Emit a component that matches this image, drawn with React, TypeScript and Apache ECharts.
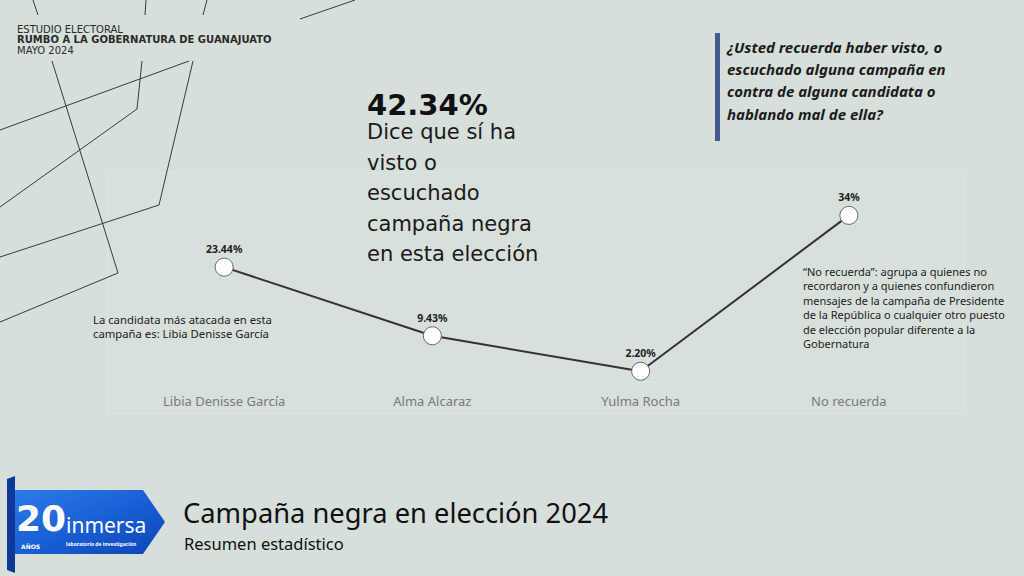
import React, { useEffect, useRef } from "react";
import * as echarts from "echarts";

const categories = ["Libia Denisse García", "Alma Alcaraz", "Yulma Rocha", "No recuerda"];
const values = [23.44, 9.43, 2.2, 34];
const valueLabels = ["23.44%", "9.43%", "2.20%", "34%"];

const headerLines = ["ESTUDIO ELECTORAL", "RUMBO A LA GOBERNATURA DE GUANAJUATO", "MAYO 2024"];
const bigStat = "42.34%";
const bigStatLines = ["Dice que sí ha", "visto o", "escuchado", "campaña negra", "en esta elección"];
const questionLines = [
  "¿Usted recuerda haber visto, o",
  "escuchado alguna campaña en",
  "contra de alguna candidata o",
  "hablando mal de ella?",
];
const leftNoteLines = ["La candidata más atacada en esta", "campaña es: Libia Denisse García"];
const rightNoteLines = [
  "“No recuerda”: agrupa a quienes no",
  "recordaron y a quienes confundieron",
  "mensajes de la campaña de Presidente",
  "de la República o cualquier otro puesto",
  "de elección popular diferente a la",
  "Gobernatura",
];
const footerTitle = "Campaña negra en elección 2024";
const footerSubtitle = "Resumen estadístico";

const BG = "#d6dfda";
const LINE = "#3a3a3a";

const decoLines: number[][][] = [
  [[33, 0], [38, 15]],
  [[146, 0], [145, 15]],
  [[207, 0], [203, 15]],
  [[300, 19], [355, 0]],
  [[52, 61], [118, 273], [0, 322]],
  [[142, 61], [137, 109], [0, 207]],
  [[189, 61], [0, 130]],
  [[193, 61], [159, 205], [0, 257]],
];

export default function App() {
  const ref = useRef<HTMLDivElement>(null);

  useEffect(() => {
    if (!ref.current) return;
    const chart = echarts.init(ref.current, null, { renderer: "svg" });

    const graphics: any[] = [];

    graphics.push({
      type: "rect",
      z: -10,
      shape: { x: 107.5, y: 172.5, width: 856, height: 241 },
      style: { fill: "rgba(255,255,255,0.04)", stroke: "#dde5e0", lineWidth: 1 },
    });

    decoLines.forEach((pts) => {
      graphics.push({
        type: "polyline",
        shape: { points: pts },
        style: { stroke: LINE, lineWidth: 1, fill: "none" },
      });
    });

    const headerFonts = ["normal", "bold", "normal"];
    headerLines.forEach((t, i) => {
      graphics.push({
        type: "text",
        x: 17,
        y: 29 + i * 10.5,
        style: {
          text: t,
          fill: "#2a2a2a",
          font: `${headerFonts[i]} 10px "DejaVu Sans"`,
          verticalAlign: "middle",
        },
      });
    });

    graphics.push({
      type: "text",
      x: 367,
      y: 105,
      style: {
        text: bigStat,
        fill: "#111",
        font: 'bold 29px "DejaVu Sans"',
        verticalAlign: "middle",
      },
    });
    bigStatLines.forEach((t, i) => {
      graphics.push({
        type: "text",
        x: 367,
        y: 132 + i * 30.6,
        style: {
          text: t,
          fill: "#1a1a1a",
          font: '21px "DejaVu Sans"',
          verticalAlign: "middle",
        },
      });
    });

    graphics.push({
      type: "rect",
      shape: { x: 715, y: 33, width: 5, height: 108 },
      style: { fill: "#43598f" },
    });
    questionLines.forEach((t, i) => {
      graphics.push({
        type: "text",
        x: 727,
        y: 47 + i * 22.2,
        style: {
          text: t,
          fill: "#1c1c1c",
          font: 'italic bold 15px "Noto Sans"',
          verticalAlign: "middle",
        },
      });
    });

    leftNoteLines.forEach((t, i) => {
      graphics.push({
        type: "text",
        x: 93,
        y: 319 + i * 14,
        style: { text: t, fill: "#222", font: '11.3px "Noto Sans"', verticalAlign: "middle" },
      });
    });
    rightNoteLines.forEach((t, i) => {
      graphics.push({
        type: "text",
        x: 803,
        y: 271 + i * 14.5,
        style: { text: t, fill: "#222", font: '11px "Noto Sans"', verticalAlign: "middle" },
      });
    });

    graphics.push({
      type: "text",
      x: 183,
      y: 512,
      style: { text: footerTitle, fill: "#111", font: '27.3px "Noto Sans"', verticalAlign: "middle" },
    });
    graphics.push({
      type: "text",
      x: 184,
      y: 543,
      style: { text: footerSubtitle, fill: "#111", font: '16.5px "Noto Sans"', verticalAlign: "middle" },
    });

    // logo ribbon
    graphics.push({
      type: "polygon",
      shape: { points: [[7, 479], [15, 476], [15, 573], [7, 570]] },
      style: { fill: "#0d3a99" },
    });
    graphics.push({
      type: "polygon",
      shape: { points: [[15, 490], [143, 490], [165, 522], [143, 554], [15, 554]] },
      style: {
        fill: new echarts.graphic.LinearGradient(0, 0, 1, 1, [
          { offset: 0, color: "#2c7be8" },
          { offset: 0.5, color: "#1a5fd6" },
          { offset: 1, color: "#0c45b5" },
        ]),
      },
    });
    graphics.push({
      type: "text",
      x: 16,
      y: 518,
      style: { text: "20", fill: "#fff", font: 'bold 36px "DejaVu Sans"', verticalAlign: "middle" },
    });
    graphics.push({
      type: "text",
      x: 21,
      y: 546,
      style: { text: "AÑOS", fill: "#fff", font: 'bold 6px "DejaVu Sans"', verticalAlign: "middle" },
    });
    graphics.push({
      type: "text",
      x: 66,
      y: 525,
      style: { text: "inmersa", fill: "#fff", font: '21px "Noto Sans"', verticalAlign: "middle" },
    });
    graphics.push({
      type: "text",
      x: 66,
      y: 544,
      style: { text: "laboratorio de investigación", fill: "#fff", font: 'bold 5px "Noto Sans"', verticalAlign: "middle" },
    });

    chart.setOption({
      animation: false,
      backgroundColor: BG,
      grid: { left: 120, right: 71, top: 186, bottom: 194 },
      xAxis: {
        type: "category",
        data: categories,
        boundaryGap: true,
        axisLine: { show: true, lineStyle: { color: "#dde5e0", width: 1 } },
        axisTick: { show: false },
        axisLabel: {
          color: "#7a7a7a",
          fontSize: 13,
          fontFamily: "Noto Sans",
          margin: 12,
        },
        splitLine: { show: false },
      },
      yAxis: {
        type: "value",
        min: 0,
        max: 40,
        show: false,
        splitLine: { show: false },
      },
      series: [
        {
          type: "line",
          data: values,
          symbol: "circle",
          symbolSize: 18,
          lineStyle: { color: "#333", width: 2 },
          itemStyle: { color: "#fff", borderColor: "#666", borderWidth: 1 },
          label: {
            show: true,
            position: "top",
            distance: 3,
            color: "#222",
            fontSize: 10.5,
            fontWeight: "bold",
            fontFamily: "Noto Sans",
            formatter: (p: any) => valueLabels[p.dataIndex],
          },
          z: 5,
        },
      ],
      graphic: graphics,
    });

    return () => chart.dispose();
  }, []);

  return (
    <div
      ref={ref}
      style={{ position: "fixed", left: 0, top: 0, width: 1024, height: 576 }}
    />
  );
}
